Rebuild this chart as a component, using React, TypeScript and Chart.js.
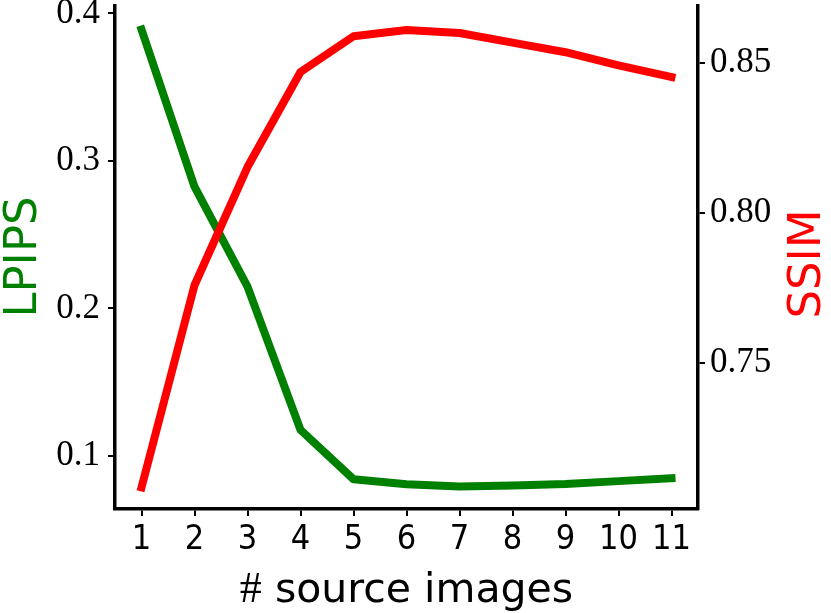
import React, { useEffect, useRef } from "react";
import { Chart, registerables } from "chart.js";

Chart.register(...registerables);

// ---- data ----
const sourceImages = ["1", "2", "3", "4", "5", "6", "7", "8", "9", "10", "11"];
const lpips = [0.389, 0.2825, 0.2147, 0.1176, 0.0842, 0.0808, 0.0792, 0.0799, 0.081, 0.0829, 0.0849];
const ssim = [0.7084, 0.7758, 0.8152, 0.8469, 0.8588, 0.8609, 0.8599, 0.8567, 0.8535, 0.8491, 0.8452];
const lpipsTicks = [0.1, 0.2, 0.3, 0.4];
const ssimTicks = [0.75, 0.8, 0.85];
const lpipsRange = [0.064, 0.405];
const ssimRange = [0.7012, 0.8689];

const W = 831;
const H = 613;
const AREA = { left: 115, right: 698, top: 6, bottom: 509 };

const SANS = '"DejaVu Sans Condensed", "DejaVu Sans", sans-serif';
const SANS_WIDE = '"DejaVu Sans", sans-serif';
const SERIF = '"Liberation Serif", "DejaVu Serif", serif';

const titlesPlugin = {
  id: "axisTitles",
  afterDraw(chart: any) {
    const ctx = chart.ctx as CanvasRenderingContext2D;
    const ca = chart.chartArea;
    ctx.save();
    ctx.textBaseline = "alphabetic";
    ctx.textAlign = "center";

    // left title
    ctx.font = `45px ${SANS_WIDE}`;
    ctx.fillStyle = "green";
    ctx.save();
    ctx.translate(36, 257);
    ctx.rotate(-Math.PI / 2);
    ctx.fillText("LPIPS", 0, 0);
    ctx.restore();

    // right title
    ctx.fillStyle = "red";
    ctx.save();
    ctx.translate(820, 264);
    ctx.rotate(-Math.PI / 2);
    ctx.fillText("SSIM", 0, 0);
    ctx.restore();

    // x title
    ctx.fillStyle = "#000";
    ctx.textAlign = "left";
    const hashFont = `44px ${SERIF}`;
    const restFont = `41px ${SANS_WIDE}`;
    ctx.font = hashFont;
    const w1 = ctx.measureText("#").width;
    ctx.font = restFont;
    const rest = " source images";
    const w2 = ctx.measureText(rest).width;
    const cx = (ca.left + ca.right) / 2;
    let x = cx - (w1 + w2) / 2;
    const y = 602;
    ctx.font = hashFont;
    ctx.fillText("#", x, y);
    ctx.font = restFont;
    ctx.fillText(rest, x + w1, y);
    ctx.restore();
  },
};

export default function App() {
  const ref = useRef<HTMLCanvasElement | null>(null);

  useEffect(() => {
    if (!ref.current) return;
    const gridCommon = {
      drawOnChartArea: false,
      drawTicks: true,
      tickLength: 7,
      tickWidth: 2,
      tickColor: "#000",
      color: "#000",
      lineWidth: 2,
    };
    const borderCommon = { display: true, color: "#000", width: 3.5 };

    const chart = new Chart(ref.current, {
      type: "line",
      data: {
        labels: sourceImages,
        datasets: [
          {
            label: "LPIPS",
            data: lpips,
            yAxisID: "yL",
            borderColor: "green",
            backgroundColor: "green",
            borderWidth: 8,
            pointRadius: 0,
            tension: 0,
            borderCapStyle: "square",
            borderJoinStyle: "round",
            order: 2,
            clip: false,
          },
          {
            label: "SSIM",
            data: ssim,
            yAxisID: "yR",
            borderColor: "red",
            backgroundColor: "red",
            borderWidth: 8,
            pointRadius: 0,
            tension: 0,
            borderCapStyle: "square",
            borderJoinStyle: "round",
            order: 1,
            clip: false,
          },
        ],
      },
      options: {
        animation: false,
        responsive: false,
        maintainAspectRatio: false,
        layout: { padding: { left: 0, right: 0, top: AREA.top, bottom: 0 } },
        plugins: {
          legend: { display: false },
          tooltip: { enabled: false },
          title: { display: false },
        },
        scales: {
          x: {
            type: "category",
            offset: true,
            grid: { ...gridCommon, offset: false },
            border: borderCommon,
            ticks: {
              color: "#000",
              font: { family: SANS, size: 34 },
              padding: 4,
              maxRotation: 0,
              autoSkip: false,
            },
            afterFit: (s: any) => {
              s.height = H - AREA.bottom;
              s.paddingLeft = 0;
              s.paddingRight = 0;
            },
          },
          yL: {
            type: "linear",
            position: "left",
            min: lpipsRange[0],
            max: lpipsRange[1],
            grid: gridCommon,
            border: borderCommon,
            afterBuildTicks: (s: any) => {
              s.ticks = lpipsTicks.map((v) => ({ value: v }));
            },
            ticks: {
              color: "#000",
              font: { family: SERIF, size: 35 },
              padding: 8,
              callback: (v: any) => Number(v).toFixed(1),
            },
            afterFit: (s: any) => {
              s.width = AREA.left;
              s.paddingTop = 0;
              s.paddingBottom = 0;
            },
          },
          yR: {
            type: "linear",
            position: "right",
            min: ssimRange[0],
            max: ssimRange[1],
            grid: gridCommon,
            border: borderCommon,
            afterBuildTicks: (s: any) => {
              s.ticks = ssimTicks.map((v) => ({ value: v }));
            },
            ticks: {
              color: "#000",
              font: { family: SERIF, size: 35 },
              padding: 5,
              callback: (v: any) => Number(v).toFixed(2),
            },
            afterFit: (s: any) => {
              s.width = W - AREA.right;
              s.paddingTop = 0;
              s.paddingBottom = 0;
            },
          },
        },
      },
      plugins: [titlesPlugin],
    });
    return () => chart.destroy();
  }, []);

  return (
    <div style={{ position: "absolute", left: 0, top: 0, width: W, height: H, background: "#fff" }}>
      <canvas ref={ref} width={W} height={H} style={{ display: "block" }} />
    </div>
  );
}
